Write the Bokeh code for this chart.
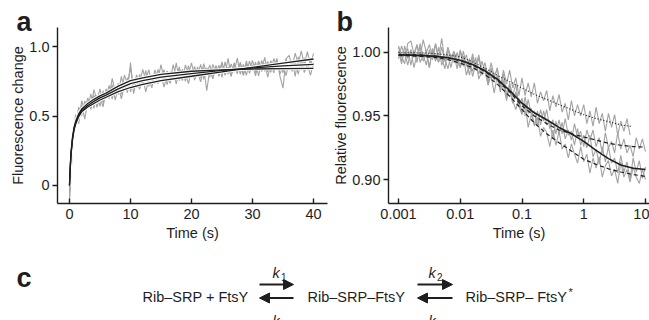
from bokeh.plotting import figure
from bokeh.layouts import column, row
from bokeh.models import Range1d, FixedTicker, Label, Arrow, NormalHead, Title
from bokeh.embed import file_html
from bokeh.resources import INLINE

# ---------------- panel a data ----------------
t_fit_a = [0, 0.1, 0.25, 0.5, 0.75, 1, 1.5, 2, 3, 4, 5, 6, 8, 10, 12, 15, 20, 25, 30, 35, 40]
fit_a1 = [0, 0.12, 0.24, 0.35, 0.42, 0.46, 0.515, 0.55, 0.59, 0.62, 0.645, 0.665, 0.715, 0.755, 0.775, 0.80, 0.822, 0.832, 0.838, 0.841, 0.843]
fit_a2 = [0, 0.11, 0.23, 0.34, 0.41, 0.45, 0.505, 0.54, 0.575, 0.605, 0.63, 0.65, 0.695, 0.733, 0.755, 0.78, 0.805, 0.828, 0.846, 0.86, 0.872]
fit_a3 = [0, 0.10, 0.22, 0.33, 0.40, 0.44, 0.495, 0.53, 0.565, 0.59, 0.615, 0.635, 0.675, 0.705, 0.728, 0.755, 0.786, 0.818, 0.85, 0.88, 0.91]

t_raw_a = [0, 0.5, 1, 1.5, 2, 2.5, 3, 3.5, 4, 4.5, 5, 5.5, 6, 6.5, 7, 7.5, 8, 8.5, 9, 9.5,
           10, 10.5, 11, 11.5, 12, 12.5, 13, 13.5, 14, 14.5, 15, 15.5, 16, 16.5, 17, 17.5, 18, 18.5, 19, 19.5,
           20, 20.5, 21, 21.5, 22, 22.5, 23, 23.5, 24, 24.5, 25, 25.5, 26, 26.5, 27, 27.5, 28, 28.5, 29, 29.5,
           30, 30.5, 31, 31.5, 32, 32.5, 33, 33.5, 34, 34.5, 35, 35.5, 36, 36.5, 37, 37.5, 38, 38.5, 39, 39.5, 40]
raw_a1 = [-0.09, 0.31, 0.51, 0.455, 0.61, 0.54, 0.63, 0.555, 0.69, 0.613, 0.695, 0.595, 0.695, 0.638, 0.77, 0.673, 0.735, 0.655, 0.795, 0.735,
          0.845, 0.71, 0.795, 0.73, 0.835, 0.759, 0.833, 0.728, 0.832, 0.766, 0.87, 0.762, 0.824, 0.757, 0.869, 0.781, 0.853, 0.756, 0.868, 0.80,
          0.882, 0.783, 0.854, 0.775, 0.876, 0.807, 0.868, 0.769, 0.86, 0.801, 0.892, 0.793, 0.853, 0.784, 0.884, 0.825, 0.876, 0.796, 0.897, 0.807,
          0.868, 0.788, 0.889, 0.819, 0.879, 0.78, 0.87, 0.81, 0.90, 0.801, 0.861, 0.791, 0.891, 0.822, 0.882, 0.802, 0.902, 0.813, 0.873, 0.793, 0.883]
raw_a2 = [-0.05, 0.38, 0.42, 0.565, 0.50, 0.608, 0.555, 0.66, 0.555, 0.648, 0.57, 0.68, 0.64, 0.721, 0.622, 0.714, 0.655, 0.785, 0.684, 0.774,
          0.673, 0.759, 0.704, 0.80, 0.725, 0.829, 0.713, 0.788, 0.732, 0.836, 0.76, 0.833, 0.725, 0.818, 0.76, 0.883, 0.755, 0.838, 0.75, 0.863,
          0.775, 0.857, 0.79, 0.872, 0.764, 0.847, 0.779, 0.871, 0.804, 0.866, 0.778, 0.89, 0.802, 0.874, 0.815, 0.917, 0.799, 0.871, 0.792, 0.894,
          0.826, 0.887, 0.789, 0.90, 0.821, 0.893, 0.814, 0.915, 0.837, 0.888, 0.81, 0.911, 0.832, 0.903, 0.785, 0.926, 0.847, 0.918, 0.83, 0.901, 0.862]
raw_a3 = [-0.11, 0.27, 0.47, 0.445, 0.58, 0.478, 0.605, 0.548, 0.65, 0.563, 0.645, 0.565, 0.685, 0.625, 0.725, 0.615, 0.715, 0.623, 0.72, 0.668,
          0.885, 0.661, 0.757, 0.692, 0.778, 0.673, 0.767, 0.702, 0.806, 0.731, 0.795, 0.708, 0.791, 0.734, 0.817, 0.731, 0.834, 0.757, 0.81, 0.733,
          0.826, 0.759, 0.812, 0.746, 0.849, 0.682, 0.835, 0.768, 0.862, 0.785, 0.878, 0.801, 0.914, 0.788, 0.871, 0.804, 0.887, 0.79, 0.874, 0.827,
          0.90, 0.813, 0.896, 0.829, 0.922, 0.815, 0.898, 0.851, 0.914, 0.787, 0.70, 0.913, 0.936, 0.849, 0.952, 0.875, 0.968, 0.871, 0.964, 0.867, 0.95]

a_xticks = [0, 10, 20, 30, 40]
a_yticks = [0, 0.5, 1.0]
a_ylabels = ["0", "0.5", "1.0"]

# ---------------- panel b data (log10 of time) ----------------
e_fit_b = [-3.0, -2.8, -2.6, -2.4, -2.2, -2.0, -1.8, -1.6, -1.4, -1.2, -1.0, -0.8, -0.6, -0.4, -0.2, 0.0, 0.2, 0.4, 0.6, 0.8, 1.0]
fit_b_solid = [0.998, 0.9978, 0.9974, 0.9968, 0.9958, 0.9938, 0.9905, 0.9855, 0.979, 0.970, 0.960, 0.9525, 0.947, 0.941, 0.936, 0.930, 0.923, 0.9165, 0.9115, 0.909, 0.908]
fit_b_mid = [0.9985, 0.9982, 0.9978, 0.997, 0.9958, 0.9935, 0.990, 0.985, 0.978, 0.969, 0.958, 0.950, 0.944, 0.939, 0.936, 0.9335, 0.931, 0.9285, 0.927, 0.926, 0.9255]
fit_b_low = [0.9975, 0.9972, 0.9967, 0.9958, 0.9943, 0.9915, 0.988, 0.9825, 0.975, 0.9655, 0.955, 0.9445, 0.936, 0.929, 0.9225, 0.916, 0.912, 0.9085, 0.906, 0.904, 0.9025]
e_fit_dot = [-3.0, -2.8, -2.6, -2.4, -2.2, -2.0, -1.8, -1.6, -1.4, -1.2, -1.0, -0.8, -0.6, -0.4, -0.2, 0.0, 0.2, 0.4, 0.6, 0.78]
fit_b_dot = [1.000, 0.9998, 0.9995, 0.999, 0.998, 0.9965, 0.9925, 0.9875, 0.982, 0.977, 0.972, 0.967, 0.963, 0.959, 0.955, 0.951, 0.948, 0.9455, 0.943, 0.9417]

e_raw_b = [-3.00, -2.95, -2.90, -2.85, -2.80, -2.75, -2.70, -2.65, -2.60, -2.55, -2.50, -2.45, -2.40, -2.35, -2.30, -2.25,
           -2.20, -2.15, -2.10, -2.05, -2.00, -1.95, -1.90, -1.85, -1.80, -1.75, -1.70, -1.65, -1.60, -1.55, -1.50, -1.45,
           -1.40, -1.35, -1.30, -1.25, -1.20, -1.15, -1.10, -1.05, -1.00, -0.95, -0.90, -0.85, -0.80, -0.75, -0.70, -0.65,
           -0.60, -0.55, -0.50, -0.45, -0.40, -0.35, -0.30, -0.25, -0.20, -0.15, -0.10, -0.05, 0.00, 0.05, 0.10, 0.15,
           0.20, 0.25, 0.30, 0.35, 0.40, 0.45, 0.50, 0.55, 0.60, 0.65, 0.70, 0.75, 0.80, 0.85, 0.90, 0.95, 1.00]
raw_b_solid = [1.004, 0.993, 1.000, 0.990, 1.002, 0.996, 1.006, 0.992, 0.998, 0.990, 1.002, 0.994, 1.006, 0.993, 0.996, 0.987,
               1.002, 0.994, 0.998, 0.987, 1.001, 0.989, 0.993, 0.982, 0.996, 0.986, 0.996, 0.982, 0.988, 0.976, 0.986, 0.980,
               0.988, 0.971, 0.978, 0.965, 0.976, 0.966, 0.975, 0.958, 0.964, 0.950, 0.963, 0.951, 0.954, 0.942, 0.955, 0.946,
               0.955, 0.940, 0.947, 0.936, 0.947, 0.936, 0.948, 0.935, 0.938, 0.927, 0.940, 0.927, 0.935, 0.925, 0.935, 0.918,
               0.924, 0.912, 0.926, 0.914, 0.926, 0.913, 0.917, 0.905, 0.919, 0.906, 0.914, 0.900, 0.917, 0.906, 0.915, 0.901, 0.910]
raw_b_mid = [0.995, 1.005, 0.997, 1.003, 0.990, 1.001, 0.992, 1.007, 0.996, 1.002, 0.988, 1.003, 0.997, 0.992, 1.004, 0.993,
             0.998, 0.988, 1.000, 0.993, 0.988, 1.001, 0.989, 0.995, 0.981, 0.991, 0.983, 0.993, 0.985, 0.975, 0.988, 0.978,
             0.981, 0.969, 0.983, 0.967, 0.970, 0.960, 0.969, 0.958, 0.951, 0.965, 0.952, 0.956, 0.942, 0.954, 0.943, 0.954,
             0.943, 0.946, 0.932, 0.946, 0.936, 0.945, 0.932, 0.939, 0.931, 0.944, 0.933, 0.938, 0.926, 0.939, 0.931, 0.939,
             0.926, 0.933, 0.921, 0.937, 0.925, 0.930, 0.921, 0.937, 0.924, 0.932, 0.921, 0.927, 0.918, 0.933, 0.924, 0.932, 0.922]
raw_b_low = [1.001, 0.991, 1.005, 0.995, 1.002, 0.988, 0.998, 1.004, 0.993, 0.999, 0.988, 1.002, 0.993, 1.004, 0.990, 0.995,
             0.987, 0.998, 0.992, 1.000, 0.988, 0.997, 0.982, 0.991, 0.985, 0.996, 0.979, 0.985, 0.988, 0.974, 0.982, 0.968,
             0.982, 0.971, 0.974, 0.962, 0.974, 0.962, 0.955, 0.964, 0.952, 0.960, 0.941, 0.951, 0.943, 0.949, 0.934, 0.941,
             0.937, 0.926, 0.939, 0.927, 0.938, 0.924, 0.928, 0.917, 0.928, 0.920, 0.913, 0.926, 0.914, 0.920, 0.905, 0.917,
             0.909, 0.918, 0.902, 0.911, 0.915, 0.903, 0.908, 0.897, 0.914, 0.902, 0.908, 0.898, 0.910, 0.902, 0.897, 0.908, 0.900]
raw_b_dot = [1.005, 0.997, 0.991, 1.007, 1.009, 0.999, 1.006, 0.996, 1.010, 1.000, 1.006, 0.997, 1.007, 0.996, 1.011, 0.993,
             1.004, 0.996, 1.001, 0.991, 1.002, 0.992, 0.998, 0.987, 0.999, 0.988, 0.998, 0.984, 0.992, 0.980, 0.992, 0.981,
             0.987, 0.973, 0.986, 0.975, 0.986, 0.972, 0.980, 0.966, 0.980, 0.966, 0.976, 0.965, 0.976, 0.960, 0.969, 0.962,
             0.970, 0.954, 0.966, 0.957, 0.967, 0.953, 0.960, 0.947, 0.962, 0.950, 0.959, 0.950, 0.959, 0.944, 0.954, 0.942,
             0.957, 0.944, 0.952, 0.938, 0.952, 0.941, 0.951, 0.935, 0.946, 0.938, 0.948, 0.935]

b_xticks = [0.001, 0.01, 0.1, 1, 10]
b_xlabels = ["0.001", "0.01", "0.1", "1", "10"]
b_yticks = [0.90, 0.95, 1.00]
b_ylabels = ["0.90", "0.95", "1.00"]

# ---------------- panel c scheme ----------------
species = ["Rib\u2013SRP + FtsY", "Rib\u2013SRP\u2013FtsY", "Rib\u2013SRP\u2013 FtsY"]
rates_fwd = ["1", "2"]
rates_rev = ["\u22121", "\u22122"]
panel_letters = ["a", "b", "c"]

FONT = "Liberation Sans"
FS = "14.5px"
GRAY = "#a3a3a3"
INK = "#1e1e1e"


def px(e_list):
    return [10 ** e for e in e_list]


def style_axes(p):
    for ax in (p.xaxis[0], p.yaxis[0]):
        ax.axis_line_width = 1.4
        ax.axis_line_color = INK
        ax.major_tick_line_width = 1.4
        ax.major_tick_line_color = INK
        ax.minor_tick_line_color = None
        ax.major_label_text_font = FONT
        ax.major_label_text_font_size = FS
        ax.major_label_text_color = INK
        ax.axis_label_text_font = FONT
        ax.axis_label_text_font_size = FS
        ax.axis_label_text_font_style = "normal"
        ax.axis_label_text_color = INK
    p.xaxis.major_tick_in = 5
    p.xaxis.major_tick_out = 0
    p.yaxis.major_tick_in = 0
    p.yaxis.major_tick_out = 5
    p.xaxis.major_label_standoff = 5
    p.xaxis.axis_label_standoff = 3
    p.yaxis.major_label_standoff = 3
    p.yaxis.axis_label_standoff = 0
    p.grid.visible = False
    p.outline_line_color = None


def letter_title(txt, offset):
    return Title(text=txt, align="left", offset=offset, standoff=-18,
                 text_font=FONT, text_font_size="27px", text_font_style="bold",
                 text_color=INK)


# ---------- panel a ----------
pa = figure(width=330, height=245, output_backend="svg", toolbar_location=None,
            x_range=Range1d(-1.967, 42.295), y_range=Range1d(-0.1295, 1.1367),
            min_border_left=57, min_border_right=3, min_border_top=27, min_border_bottom=42)
for r in (raw_a1, raw_a2, raw_a3):
    pa.line(t_raw_a, r, line_color=GRAY, line_width=1.1)
for f in (fit_a1, fit_a2, fit_a3):
    pa.line(t_fit_a, f, line_color="white", line_width=3.2)
for f in (fit_a1, fit_a2, fit_a3):
    pa.line(t_fit_a, f, line_color=INK, line_width=1.3)
style_axes(pa)
pa.xaxis.ticker = FixedTicker(ticks=a_xticks)
pa.yaxis.ticker = FixedTicker(ticks=a_yticks)
pa.yaxis.major_label_overrides = dict(zip(a_yticks, a_ylabels))
pa.xaxis.axis_label = "Time (s)"
pa.yaxis.axis_label = "Fluorescence change"
pa.title = letter_title(panel_letters[0], -41)

# ---------- panel b ----------
pb = figure(width=319, height=245, output_backend="svg", toolbar_location=None,
            x_axis_type="log", x_range=Range1d(10 ** -3.162, 10 ** 1.0648),
            y_range=Range1d(0.88125, 1.0195),
            min_border_left=58, min_border_right=0, min_border_top=27, min_border_bottom=41)
for e, r in ((e_raw_b[:len(raw_b_dot)], raw_b_dot), (e_raw_b, raw_b_mid), (e_raw_b, raw_b_solid), (e_raw_b, raw_b_low)):
    pb.line(px(e), r, line_color=GRAY, line_width=1.1)
pb.line(px(e_fit_dot), fit_b_dot, line_color=INK, line_width=1.2, line_dash="1 2")
pb.line(px(e_fit_b), fit_b_mid, line_color=INK, line_width=1.2, line_dash="4 3")
pb.line(px(e_fit_b), fit_b_low, line_color=INK, line_width=1.2, line_dash="4 3")
pb.line(px(e_fit_b), fit_b_solid, line_color=INK, line_width=1.6)
style_axes(pb)
pb.xaxis.ticker = FixedTicker(ticks=b_xticks)
pb.xaxis.major_label_overrides = dict(zip(b_xticks, b_xlabels))
pb.yaxis.ticker = FixedTicker(ticks=b_yticks)
pb.yaxis.major_label_overrides = dict(zip(b_yticks, b_ylabels))
pb.xaxis.axis_label = "Time (s)"
pb.yaxis.axis_label = "Relative fluorescence"
pb.title = letter_title(panel_letters[1], -52)

# ---------- panel c ----------
pc = figure(width=649, height=75, output_backend="svg", toolbar_location=None,
            x_range=Range1d(0, 649), y_range=Range1d(0, 75),
            min_border=0, x_axis_location=None, y_axis_location=None)
pc.grid.visible = False
pc.outline_line_color = None
pc.add_layout(Label(x=16, y=43, text=panel_letters[2], text_font=FONT, text_font_size="27px",
                    text_font_style="bold", text_color=INK, text_baseline="alphabetic"))
sp_x = [142, 307, 465]
for sx, s in zip(sp_x, species):
    pc.add_layout(Label(x=sx, y=23.5, text=s, text_font=FONT, text_font_size=FS,
                        text_color=INK, text_baseline="alphabetic"))
pc.add_layout(Label(x=568, y=29, text="*", text_font=FONT, text_font_size="11px",
                    text_color=INK, text_baseline="alphabetic"))
arrow_x = [(259, 293), (417, 452)]
k_x = [272, 428]
for (x0, x1), kx, f, r in zip(arrow_x, k_x, rates_fwd, rates_rev):
    pc.add_layout(Arrow(x_start=x0, y_start=36, x_end=x1, y_end=36, line_width=2, line_color=INK,
                        end=NormalHead(size=10, fill_color=INK, line_color=INK, line_width=1)))
    pc.add_layout(Arrow(x_start=x1, y_start=22.5, x_end=x0, y_end=22.5, line_width=2, line_color=INK,
                        end=NormalHead(size=10, fill_color=INK, line_color=INK, line_width=1)))
    pc.add_layout(Label(x=kx, y=48, text="k", text_font=FONT, text_font_size=FS,
                        text_font_style="italic", text_color=INK, text_baseline="alphabetic"))
    pc.add_layout(Label(x=kx + 8.5, y=44, text=f, text_font=FONT, text_font_size="10px",
                        text_color=INK, text_baseline="alphabetic"))
    pc.add_layout(Label(x=kx, y=-0.5, text="k", text_font=FONT, text_font_size=FS,
                        text_font_style="italic", text_color=INK, text_baseline="alphabetic"))
    pc.add_layout(Label(x=kx + 8.5, y=-4, text=r, text_font=FONT, text_font_size="10px",
                        text_color=INK, text_baseline="alphabetic"))

layout = column(row(pa, pb), pc)
open("out.html", "w").write(file_html(layout, INLINE))
